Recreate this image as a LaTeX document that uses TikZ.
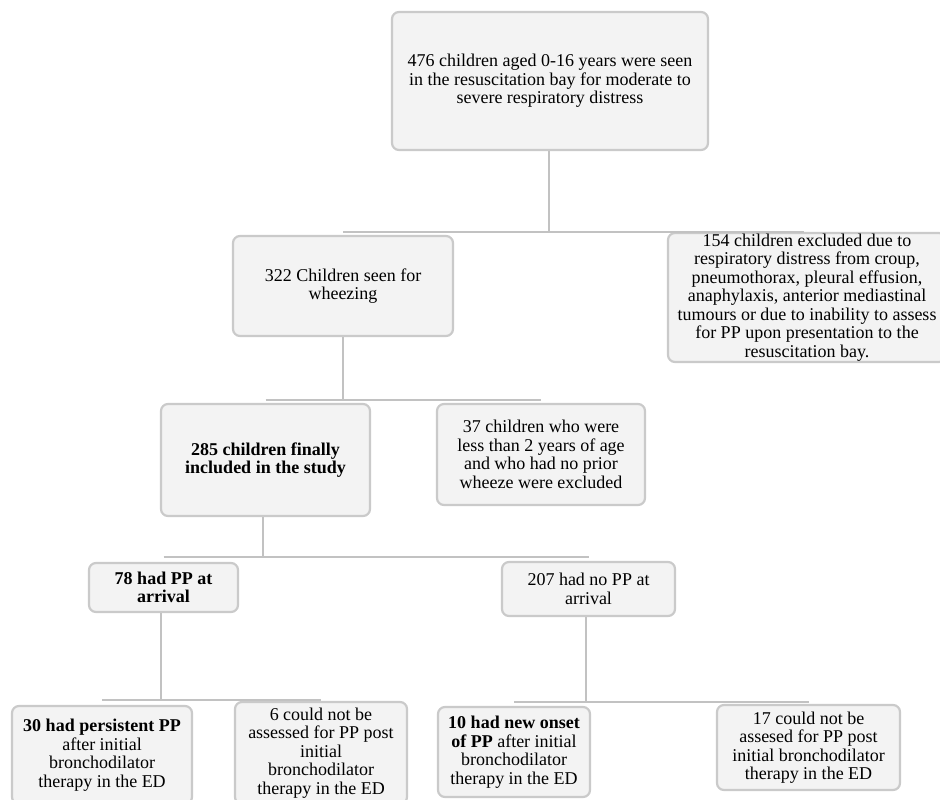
\documentclass[tikz,border=0pt]{standalone}
\usepackage{fontspec}
\setmainfont{Liberation Serif}
\definecolor{boxfill}{HTML}{F3F3F3}
\definecolor{boxline}{HTML}{CACACA}
\definecolor{conline}{HTML}{C2C2C2}
\begin{document}
\begin{tikzpicture}[x=1pt,y=-1pt,
  box/.style={draw=boxline, fill=boxfill, line width=2.2pt, rounded corners=7pt,
    align=center, inner sep=0pt, font=\fontsize{18}{18.5}\selectfont},
  con/.style={draw=conline, line width=2.6pt}]
\useasboundingbox (0,0) rectangle (940,800);
\clip (0,0) rectangle (940,800);
\node[box, minimum width=316, minimum height=138] (top) at (550,81)
  {476 children aged 0-16 years were seen\\in the resuscitation bay for moderate to\\severe respiratory distress};
\node[box, minimum width=220, minimum height=100] (w322) at (343,286)
  {322 Children seen for\\wheezing};
\node[box, minimum width=278, minimum height=129] (ex154) at (807,297.5)
  {154 children excluded due to\\respiratory distress from croup,\\pneumothorax, pleural effusion,\\anaphylaxis, anterior mediastinal\\tumours or due to inability to assess\\for PP upon presentation to the\\resuscitation bay.};
\node[box, minimum width=209, minimum height=112] (inc285) at (265.5,460)
  {\textbf{285 children finally}\\\textbf{included in the study}};
\node[box, minimum width=208, minimum height=101] (ex37) at (541,454.5)
  {37 children who were\\less than 2 years of age\\and who had no prior\\wheeze were excluded};
\node[box, minimum width=149, minimum height=49] (pp78) at (163.5,587.5)
  {\textbf{78 had PP at}\\\textbf{arrival}};
\node[box, minimum width=173, minimum height=54] (nopp207) at (588.5,589)
  {207 had no PP at\\arrival};
\node[box, minimum width=180, minimum height=98] (pers30) at (102,755)
  {\textbf{30 had persistent PP}\\after initial\\bronchodilator\\therapy in the ED};
\node[box, minimum width=172, minimum height=102] (six) at (321,753)
  {6 could not be\\assessed for PP post\\initial\\bronchodilator\\therapy in the ED};
\node[box, minimum width=152, minimum height=90] (new10) at (514,752)
  {\textbf{10 had new onset}\\\textbf{of PP} after initial\\bronchodilator\\therapy in the ED};
\node[box, minimum width=183, minimum height=85] (c17) at (808.5,747.5)
  {17 could not be\\assesed for PP post\\initial bronchodilator\\therapy in the ED};
% junctions
\coordinate (j1) at (549,232);
\coordinate (j2) at (343,400);
\coordinate (j3) at (263,557);
\coordinate (j4) at (161,700);
\coordinate (j5) at (586,702);
\draw[con] (top.south -| j1) -- (j1);
\draw[con] (w322.north |- j1) -- ([xshift=-3pt]ex154.north |- j1);
\draw[con] (w322.south -| j2) -- (j2);
\draw[con] (inc285.north |- j2) -- (ex37.north |- j2);
\draw[con] (inc285.south -| j3) -- (j3);
\draw[con] (pp78.north |- j3) -- (nopp207.north |- j3);
\draw[con] (pp78.south -| j4) -- (j4);
\draw[con] (pers30.north |- j4) -- (six.north |- j4);
\draw[con] (nopp207.south -| j5) -- (j5);
\draw[con] (new10.north |- j5) -- (c17.north |- j5);
\end{tikzpicture}
\end{document}
